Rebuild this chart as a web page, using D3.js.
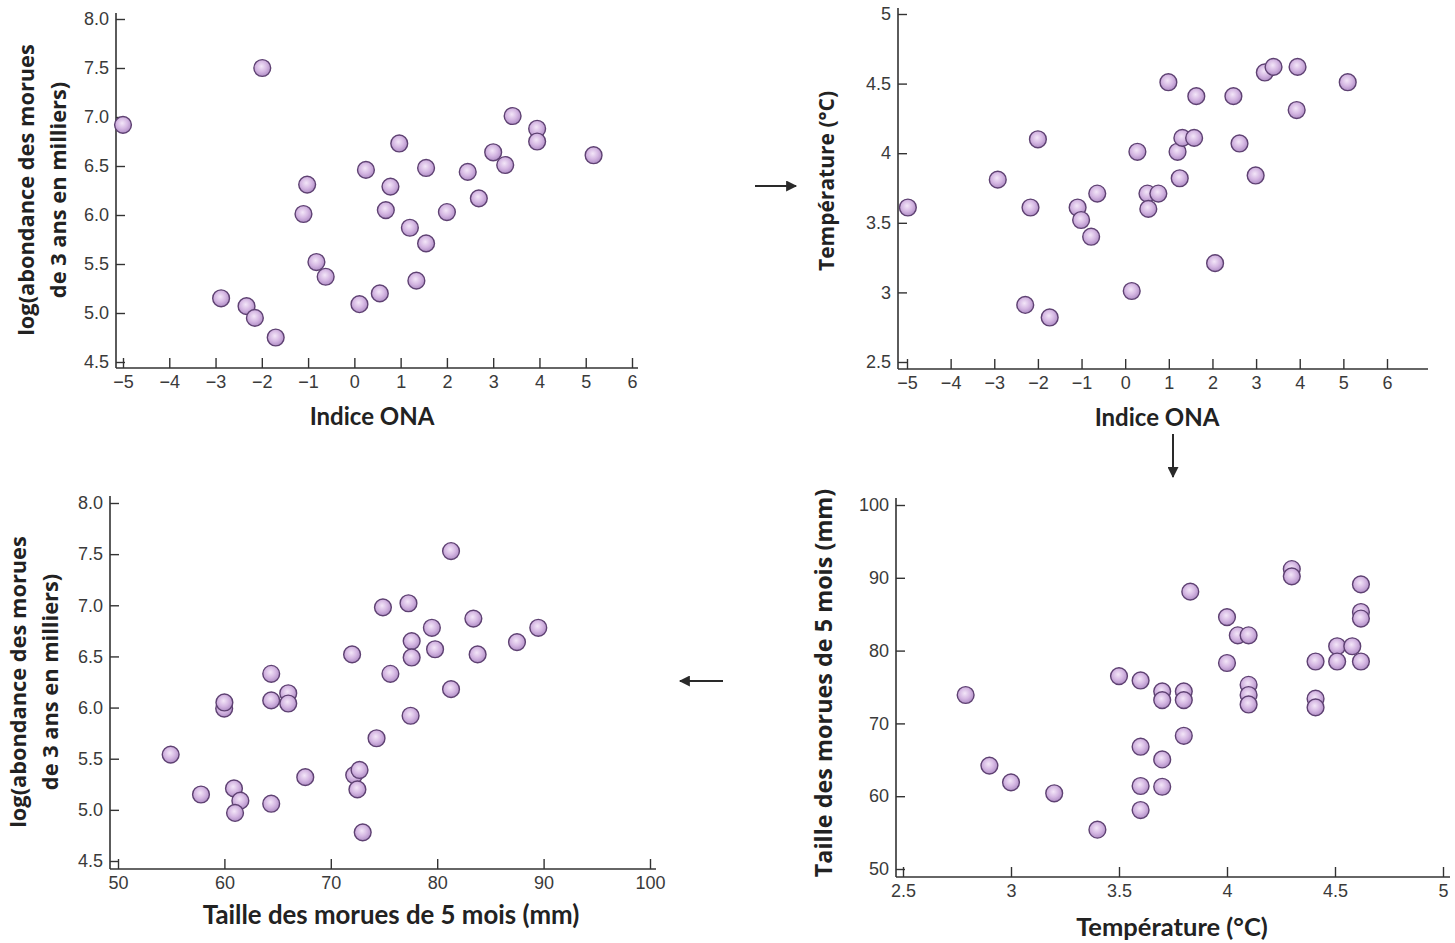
<!DOCTYPE html>
<html>
<head>
<meta charset="utf-8">
<script src="https://cdn.jsdelivr.net/npm/d3@7"></script>
<style>
  html, body { margin: 0; padding: 0; background: #fff; }
  svg { display: block; }
  .tick text { font-family: 'Liberation Sans Narrow', 'Arial Narrow', 'Liberation Sans', sans-serif; font-size: 18px; fill: #3a3a3a; }
  .tick line { stroke: #333; stroke-width: 1.4; }
  .axis-line { stroke: #333; stroke-width: 1.6; fill: none; }
  .xtitle { font-family: Lato, 'Open Sans', sans-serif; font-weight: 700; fill: #222; }
  .ytitle { font-family: 'Open Sans', sans-serif; font-weight: 700; fill: #222; }
</style>
</head>
<body>
<svg id="chart" width="1455" height="943"></svg>
<script>
// Indice ONA vs log(abondance des morues de 3 ans)
const onaA   = [-5.0, -1.99, -2.88, -2.33, -2.15, -1.70, -1.10, -1.02, -0.82, -0.62, 0.11, 0.25, 0.55, 0.68, 0.78,
                0.97, 1.20, 1.34, 1.55, 1.55, 2.0, 2.45, 2.69, 3.0, 3.26, 3.42, 3.95, 3.95, 5.17];
const abundA = [6.92, 7.50, 5.15, 5.07, 4.95, 4.75, 6.01, 6.31, 5.52, 5.37, 5.09, 6.46, 5.20, 6.05, 6.29,
                6.73, 5.87, 5.33, 5.71, 6.48, 6.03, 6.44, 6.17, 6.64, 6.51, 7.01, 6.88, 6.75, 6.61];

// Indice ONA vs température
const onaB  = [-4.98, -2.92, -2.17, -2.0, -2.29, -1.73, -1.09, -1.01, -0.78, -0.64, 0.15, 0.28, 0.51, 0.53, 0.76,
               0.99, 1.20, 1.25, 1.31, 1.58, 1.63, 2.06, 2.48, 2.62, 2.99, 3.20, 3.40, 3.95, 3.93, 5.10];
const tempB = [3.61, 3.81, 3.61, 4.10, 2.91, 2.82, 3.61, 3.52, 3.40, 3.71, 3.01, 4.01, 3.71, 3.60, 3.71,
               4.51, 4.01, 3.82, 4.11, 4.11, 4.41, 3.21, 4.41, 4.07, 3.84, 4.58, 4.62, 4.62, 4.31, 4.51];

// Taille des morues de 5 mois vs log(abondance)
const sizeC  = [54.95, 57.8, 59.98, 60.0, 60.9, 61.5, 61.0, 64.4, 64.4, 64.4, 66.0, 66.0, 67.6, 72.0, 72.2, 72.7, 72.5,
                73.0, 74.3, 74.9, 75.6, 77.3, 77.6, 77.6, 77.5, 79.5, 79.8, 81.3, 81.3, 83.4, 83.8, 87.5, 89.5];
const abundC = [5.54, 5.15, 5.99, 6.05, 5.21, 5.09, 4.97, 6.33, 6.07, 5.06, 6.14, 6.04, 5.32, 6.52, 5.34, 5.39, 5.20,
                4.78, 5.70, 6.98, 6.33, 7.02, 6.65, 6.49, 5.92, 6.78, 6.57, 7.53, 6.18, 6.87, 6.52, 6.64, 6.78];

// Température vs taille des morues de 5 mois
const tempD = [2.79, 2.90, 3.0, 3.20, 3.40, 3.50, 3.60, 3.60, 3.60, 3.60, 3.70, 3.70, 3.70, 3.70, 3.80, 3.80, 3.80,
               3.83, 4.0, 4.0, 4.05, 4.10, 4.10, 4.10, 4.10, 4.30, 4.30, 4.41, 4.41, 4.41, 4.51, 4.51, 4.58,
               4.62, 4.62, 4.62, 4.62];
const sizeD = [73.9, 64.2, 61.9, 60.4, 55.4, 76.5, 75.9, 66.8, 61.4, 58.1, 74.4, 73.2, 65.05, 61.3, 74.4, 73.2, 68.3,
               88.1, 84.6, 78.3, 82.1, 82.1, 75.3, 73.9, 72.6, 91.2, 90.2, 78.5, 73.4, 72.2, 80.6, 78.5, 80.6,
               89.1, 85.3, 84.4, 78.5];

// Tick values
const ticksONA  = [-5, -4, -3, -2, -1, 0, 1, 2, 3, 4, 5, 6];
const ticksLog  = [4.5, 5.0, 5.5, 6.0, 6.5, 7.0, 7.5, 8.0];
const ticksTemp = [2.5, 3, 3.5, 4, 4.5, 5];
const ticksSize = [50, 60, 70, 80, 90, 100];

// Axis titles
const titleONA   = "Indice ONA";
const titleLog   = ["log(abondance des morues", "de 3 ans en milliers)"];
const titleTemp  = "Température (°C)";
const titleSize  = "Taille des morues de 5 mois (mm)";

const svg = d3.select("#chart");

// Shaded marker fill
const defs = svg.append("defs");
const grad = defs.append("radialGradient").attr("id", "dot")
  .attr("cx", "45%").attr("cy", "42%").attr("r", "60%").attr("fx", "45%").attr("fy", "40%");
grad.append("stop").attr("offset", "0%").attr("stop-color", "#f3e6f8");
grad.append("stop").attr("offset", "55%").attr("stop-color", "#d4b6e2");
grad.append("stop").attr("offset", "100%").attr("stop-color", "#ad8bc3");

const marker = defs.append("marker").attr("id", "head")
  .attr("viewBox", "0 0 10 10").attr("refX", 9).attr("refY", 5)
  .attr("markerWidth", 13).attr("markerHeight", 11).attr("markerUnits", "userSpaceOnUse")
  .attr("orient", "auto");
marker.append("path").attr("d", "M0,0 L10,5 L0,10 Z").attr("fill", "#2a2a2a");

function panel(o) {
  const g = svg.append("g");
  const x = d3.scaleLinear().domain(o.xDom).range(o.xRange);
  const y = d3.scaleLinear().domain(o.yDom).range(o.yRange);

  // Axis lines (offset from the first tick)
  g.append("line").attr("class", "axis-line")
    .attr("x1", o.axisX).attr("x2", o.axisX).attr("y1", o.yTop).attr("y2", o.axisY);
  g.append("line").attr("class", "axis-line")
    .attr("x1", o.axisX).attr("x2", o.xEnd).attr("y1", o.axisY).attr("y2", o.axisY);

  const ax = g.append("g").attr("transform", `translate(0,${o.axisY})`)
    .call(d3.axisBottom(x).tickValues(o.xTicks).tickFormat(o.xFmt).tickSizeInner(-10).tickSizeOuter(0).tickPadding(7));
  ax.select(".domain").remove();

  const ay = g.append("g").attr("transform", `translate(${o.axisX},0)`)
    .call(d3.axisLeft(y).tickValues(o.yTicks).tickFormat(o.yFmt).tickSizeInner(-9).tickSizeOuter(0).tickPadding(7));
  ay.select(".domain").remove();

  g.selectAll("circle.pt").data(o.xs.map((v, i) => [v, o.ys[i]]))
    .join("circle").attr("class", "pt")
    .attr("cx", d => x(d[0])).attr("cy", d => y(d[1])).attr("r", 8.4)
    .attr("fill", "url(#dot)").attr("stroke", "#5e4172").attr("stroke-width", 1.4);

  g.append("text").attr("class", "xtitle")
    .attr("x", o.xTitlePos[0]).attr("y", o.xTitlePos[1])
    .attr("font-size", o.xTitleSize)
    .attr("text-anchor", "middle").attr("dominant-baseline", "middle")
    .text(o.xTitle);

  o.yTitle.forEach((t, i) => {
    g.append("text").attr("class", "ytitle")
      .attr("transform", `translate(${o.yTitleX[i]},${o.yTitleY}) rotate(-90)`)
      .attr("font-size", o.yTitleSize)
      .attr("text-anchor", "middle").attr("dominant-baseline", "middle")
      .text(t);
  });
}

const fmtLog = d3.format(".1f");
const fmtDef = d => d3.format("")(d).replace("-", "\u2212");

panel({ xs: onaA, ys: abundA, xDom: [-5, 6], yDom: [4.5, 8], xRange: [123, 632], yRange: [362, 19],
  axisX: 116, axisY: 368, xEnd: 638, yTop: 13, xTicks: ticksONA, yTicks: ticksLog, xFmt: fmtDef, yFmt: fmtLog,
  xTitle: titleONA, xTitlePos: [372, 419], xTitleSize: 24,
  yTitle: titleLog, yTitleX: [28, 60], yTitleY: 190, yTitleSize: 21.8 });

panel({ xs: onaB, ys: tempB, xDom: [-5, 6], yDom: [2.5, 5], xRange: [907, 1387], yRange: [362, 14],
  axisX: 898, axisY: 369, xEnd: 1428, yTop: 8, xTicks: ticksONA, yTicks: ticksTemp, xFmt: fmtDef, yFmt: fmtDef,
  xTitle: titleONA, xTitlePos: [1157, 420], xTitleSize: 24,
  yTitle: [titleTemp], yTitleX: [828], yTitleY: 181, yTitleSize: 21 });

panel({ xs: sizeC, ys: abundC, xDom: [50, 100], yDom: [4.5, 8], xRange: [118, 650], yRange: [861, 503],
  axisX: 110, axisY: 869, xEnd: 656, yTop: 496, xTicks: ticksSize, yTicks: ticksLog, xFmt: fmtDef, yFmt: fmtLog,
  xTitle: titleSize, xTitlePos: [391, 917], xTitleSize: 25.8,
  yTitle: titleLog, yTitleX: [20, 52], yTitleY: 682, yTitleSize: 21.8 });

panel({ xs: tempD, ys: sizeD, xDom: [2.5, 5], yDom: [50, 100], xRange: [903, 1443], yRange: [869, 505],
  axisX: 896, axisY: 877, xEnd: 1450, yTop: 498, xTicks: ticksTemp, yTicks: ticksSize, xFmt: fmtDef, yFmt: fmtDef,
  xTitle: titleTemp, xTitlePos: [1172, 929], xTitleSize: 25.5,
  yTitle: [titleSize], yTitleX: [826], yTitleY: 683, yTitleSize: 23.4 });

// Flow arrows linking the panels
const arrows = [[755, 186, 796, 186], [1173, 434, 1173, 477], [723, 681, 680, 681]];
svg.selectAll("line.flow").data(arrows).join("line").attr("class", "flow")
  .attr("x1", d => d[0]).attr("y1", d => d[1]).attr("x2", d => d[2]).attr("y2", d => d[3])
  .attr("stroke", "#2a2a2a").attr("stroke-width", 2).attr("marker-end", "url(#head)");
</script>
</body>
</html>
